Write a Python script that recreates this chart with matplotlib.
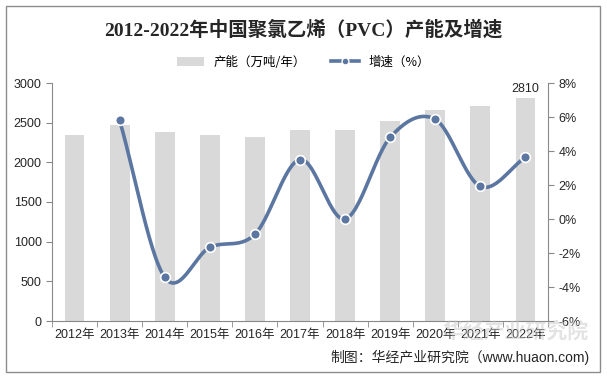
import numpy as np
import matplotlib
matplotlib.use("Agg")
import matplotlib.pyplot as plt
from matplotlib.patches import Rectangle, Patch
from matplotlib.lines import Line2D

plt.rcParams['font.family'] = ['Liberation Sans', 'Noto Sans CJK SC', 'DejaVu Sans']

years = ['2012年', '2013年', '2014年', '2015年', '2016年', '2017年',
         '2018年', '2019年', '2020年', '2021年', '2022年']
capacity = [2345, 2471, 2383, 2345, 2320, 2408, 2408, 2522, 2660, 2711, 2810]
growth = [None, 5.8, -3.43, -1.67, -0.9, 3.5, 0.0, 4.8, 5.86, 1.92, 3.63]

bar_color = '#d9d9d9'
line_color = '#5b76a0'
axis_color = '#898989'


def catmull_rom(xs, ys, n=30):
    # smooth line through the points, like Excel's "smoothed line"
    px = np.array(xs, float)
    py = np.array(ys, float)
    px = np.concatenate([[2 * px[0] - px[1]], px, [2 * px[-1] - px[-2]]])
    py = np.concatenate([[2 * py[0] - py[1]], py, [2 * py[-1] - py[-2]]])
    outx, outy = [], []
    t = np.linspace(0, 1, n)
    for i in range(1, len(px) - 2):
        for arr, out in ((px, outx), (py, outy)):
            p0, p1, p2, p3 = arr[i - 1], arr[i], arr[i + 1], arr[i + 2]
            out.extend(0.5 * ((2 * p1) + (-p0 + p2) * t
                              + (2 * p0 - 5 * p1 + 4 * p2 - p3) * t ** 2
                              + (-p0 + 3 * p1 - 3 * p2 + p3) * t ** 3))
    return np.array(outx), np.array(outy)


fig = plt.figure(figsize=(6.07, 3.78), dpi=100)
fig.patches.append(Rectangle((6 / 607, 6 / 378), 594 / 607, 366 / 378,
                             transform=fig.transFigure, fill=False,
                             edgecolor='#8c8c8c', linewidth=1.0))

ax = fig.add_axes([52 / 607, 57 / 378, 496 / 607, 238 / 378])
x = np.arange(len(years))
ax.bar(x, capacity, width=0.44, color=bar_color, zorder=1)
ax.set_xlim(-0.5, len(years) - 0.5)
ax.set_ylim(0, 3000)
ax.set_yticks(range(0, 3001, 500))
ax.set_xticks(x)
ax.set_xticklabels(years)
ax.set_xticks(np.arange(-0.5, len(years), 1), minor=True)
ax.tick_params(axis='x', which='major', length=0, pad=6, labelsize=9, colors='#262626')
ax.tick_params(axis='x', which='minor', length=4, color=axis_color)
ax.tick_params(axis='y', length=4, color=axis_color, labelsize=9, labelcolor='#262626')
for s in ['top', 'right']:
    ax.spines[s].set_visible(False)
for s in ['left', 'bottom']:
    ax.spines[s].set_color(axis_color)

ax.text(x[-1], capacity[-1] + 40, str(capacity[-1]), ha='center', va='bottom',
        fontsize=9, color='#262626')

ax2 = ax.twinx()
ax2.set_ylim(-6, 8)
ax2.set_yticks(range(-6, 9, 2))
ax2.set_yticklabels([f'{v}%' for v in range(-6, 9, 2)])
ax2.tick_params(axis='y', length=4, color=axis_color, labelsize=9, labelcolor='#262626')
for s in ['top', 'left', 'bottom']:
    ax2.spines[s].set_visible(False)
ax2.spines['right'].set_color(axis_color)

gx = [i for i, g in enumerate(growth) if g is not None]
gy = [g for g in growth if g is not None]
sx, sy = catmull_rom(gx, gy)
ax2.plot(sx, sy, color=line_color, linewidth=2.6, zorder=3, solid_capstyle='round')
ax2.plot(gx, gy, linestyle='none', marker='o', markersize=7,
         markerfacecolor=line_color, markeredgecolor='white', markeredgewidth=1.2, zorder=4)

fig.text(0.5, 1 - 30 / 378, '2012-2022年中国聚氯乙烯（PVC）产能及增速',
         ha='center', va='center', fontsize=14, fontweight='bold',
         family=['Liberation Serif', 'Noto Sans CJK SC'], color='#262626')

handles = [Patch(facecolor=bar_color, edgecolor='none'),
           Line2D([0], [0], color=line_color, linewidth=2.6, marker='o', markersize=5,
                  markerfacecolor=line_color, markeredgecolor='white')]
fig.legend(handles, ['产能（万吨/年）', '增速（%）'], loc='center',
           bbox_to_anchor=(0.5, 1 - 62 / 378), ncol=2, frameon=False,
           handlelength=2.2, columnspacing=2.0,
           prop={'family': ['Noto Sans CJK SC'], 'size': 9})

# watermark
fig.text(515 / 607, 1 - 331 / 378, '华经产业研究院', ha='center', va='center',
         fontsize=15, fontweight='bold', color='#c8c8c8', alpha=0.5,
         family=['Noto Sans CJK SC'], zorder=0)
fig.text(590 / 607, 1 - 357 / 378, '制图：华经产业研究院（www.huaon.com)',
         ha='right', va='center', fontsize=10, color='#262626')

fig.savefig('out.png', dpi=100)
